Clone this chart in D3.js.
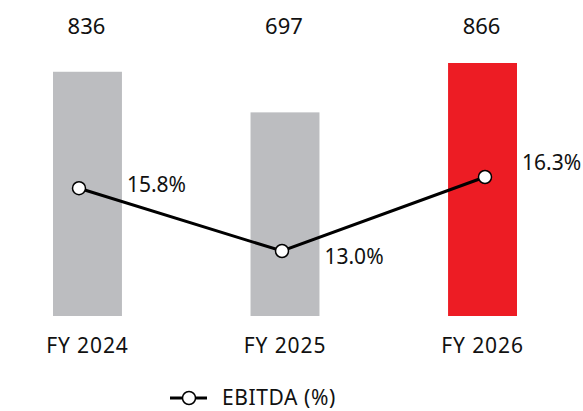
<!DOCTYPE html>
<html>
<head>
<meta charset="utf-8">
<script src="https://cdn.jsdelivr.net/npm/d3@7"></script>
<style>
  body { margin: 0; background: #fff; }
  svg text { font-family: "Noto Sans", sans-serif; fill: #111; }
</style>
</head>
<body>
<svg id="chart"></svg>
<script>
var years = ["FY 2024", "FY 2025", "FY 2026"];
var revenue = [836, 697, 866];
var ebitdaPct = [15.8, 13.0, 16.3];
var legendLabel = "EBITDA (%)";

var width = 583, height = 411;
var svg = d3.select("#chart").attr("width", width).attr("height", height);

// bars
var x = d3.scaleBand().domain(years).range([53, 517]).paddingInner(0.651).paddingOuter(0);
var y = d3.scaleLinear().domain([0, 866]).range([316, 63]);

// line has its own x/y
var xp = d3.scalePoint().domain(years).range([79, 485]);
var yp = d3.scaleLinear().domain([13.0, 16.3]).range([251, 177]);

var data = years.map(function(d, i) {
  return { year: d, rev: revenue[i], pct: ebitdaPct[i], last: i == years.length - 1 };
});

svg.selectAll("rect.bar")
  .data(data)
  .enter().append("rect")
  .attr("class", "bar")
  .attr("x", function(d) { return x(d.year); })
  .attr("y", function(d) { return y(d.rev); })
  .attr("width", x.bandwidth())
  .attr("height", function(d) { return y(0) - y(d.rev); })
  .attr("fill", function(d) { return d.last ? "#ed1c24" : "#bcbdc0"; });

// revenue labels on top
svg.selectAll("text.val")
  .data(data)
  .enter().append("text")
  .attr("class", "val")
  .attr("x", function(d) { return x(d.year) + x.bandwidth() / 2 - 1; })
  .attr("y", 34)
  .attr("text-anchor", "middle")
  .style("font-size", "22px")
  .text(function(d) { return d.rev; });

// category labels
svg.selectAll("text.cat")
  .data(data)
  .enter().append("text")
  .attr("class", "cat")
  .attr("x", function(d) { return x(d.year) + x.bandwidth() / 2; })
  .attr("y", 353)
  .attr("text-anchor", "middle")
  .style("font-size", "21px")
  .style("letter-spacing", "0.9px")
  .text(function(d) { return d.year; });

// EBITDA line
var line = d3.line()
  .x(function(d) { return xp(d.year); })
  .y(function(d) { return yp(d.pct); });

svg.append("path")
  .datum(data)
  .attr("d", line)
  .attr("fill", "none")
  .attr("stroke", "#000")
  .attr("stroke-width", 3);

svg.selectAll("circle.pt")
  .data(data)
  .enter().append("circle")
  .attr("class", "pt")
  .attr("cx", function(d) { return xp(d.year); })
  .attr("cy", function(d) { return yp(d.pct); })
  .attr("r", 6.5)
  .attr("fill", "#fff")
  .attr("stroke", "#000")
  .attr("stroke-width", 1.5);

// pct labels sit just right of each bar, nudged per point
var labelDy = [-4, 5.5, -14];
svg.selectAll("text.pct")
  .data(data)
  .enter().append("text")
  .attr("class", "pct")
  .attr("x", function(d) { return x(d.year) + x.bandwidth() + 5; })
  .attr("y", function(d, i) { return yp(d.pct) + labelDy[i]; })
  .attr("dy", "0.35em")
  .style("font-size", "21px")
  .text(function(d) { return d3.format(".1f")(d.pct) + "%"; });

// legend
var lg = svg.append("g").attr("transform", "translate(170,398)");
lg.append("line").attr("x1", 0).attr("x2", 37).attr("y1", 0).attr("y2", 0)
  .attr("stroke", "#000").attr("stroke-width", 3);
lg.append("circle").attr("cx", 19).attr("cy", 0).attr("r", 6.5)
  .attr("fill", "#fff").attr("stroke", "#000").attr("stroke-width", 1.5);
lg.append("text").attr("x", 52).attr("y", 0).attr("dy", "0.35em")
  .style("font-size", "21px")
  .style("letter-spacing", "0.6px")
  .text(legendLabel);
</script>
</body>
</html>
